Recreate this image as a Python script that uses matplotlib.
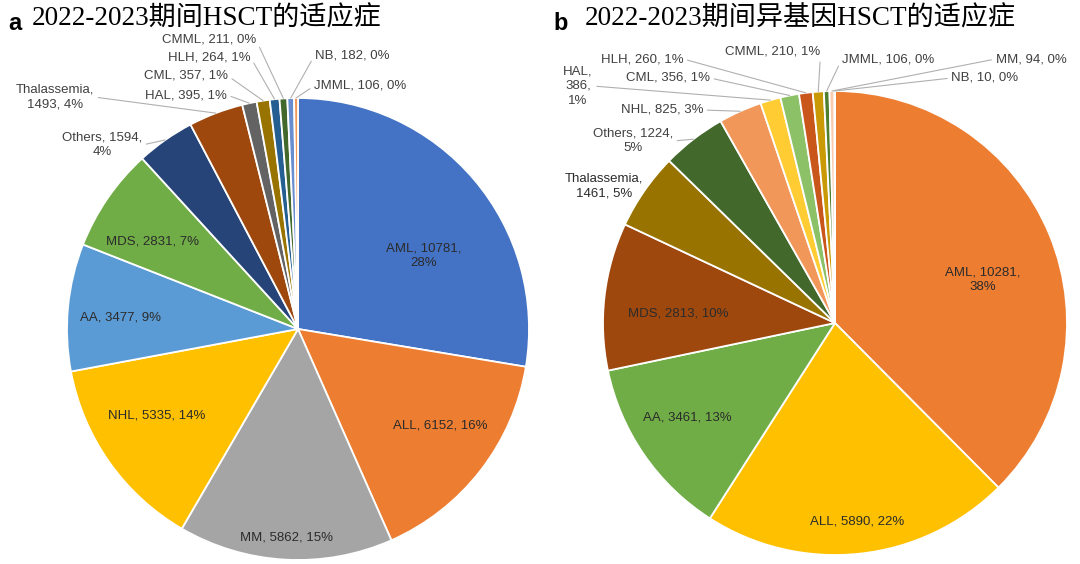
import numpy as np
import matplotlib.pyplot as plt

# ---- data: panel a (all HSCT) ----
names_a = ['AML', 'ALL', 'MM', 'NHL', 'AA', 'MDS', 'Others', 'Thalassemia',
           'HAL', 'CML', 'HLH', 'CMML', 'NB', 'JMML']
values_a = [10781, 6152, 5862, 5335, 3477, 2831, 1594, 1493, 395, 357, 264, 211, 182, 106]
pct_a = [28, 16, 15, 14, 9, 7, 4, 4, 1, 1, 1, 0, 0, 0]
colors_a = ['#4472C4', '#ED7D31', '#A5A5A5', '#FFC000', '#5B9BD5', '#70AD47', '#264478',
            '#9E480E', '#636363', '#997300', '#255E91', '#43682B', '#698ED0', '#F1975A']

# ---- data: panel b (allogeneic HSCT) ----
names_b = ['AML', 'ALL', 'AA', 'MDS', 'Thalassemia', 'Others', 'NHL', 'HAL',
           'CML', 'HLH', 'CMML', 'JMML', 'MM', 'NB']
values_b = [10281, 5890, 3461, 2813, 1461, 1224, 825, 386, 356, 260, 210, 106, 94, 10]
pct_b = [38, 22, 13, 10, 5, 5, 3, 1, 1, 1, 1, 0, 0, 0]
colors_b = ['#ED7D31', '#FFC000', '#70AD47', '#9E480E', '#997300', '#43682B', '#F1975A',
            '#FFCD33', '#8CC168', '#C9561A', '#C99A06', '#4E7F2E', '#F8CBAD', '#FFE699']

title_a = '2022-2023期间HSCT的适应症'
title_b = '2022-2023期间异基因HSCT的适应症'

# ---- layout (pixels in a 1080x564 canvas) ----
W, H = 1080, 564
pie_a = dict(cx=298, cy=329, r=231)
pie_b = dict(cx=835, cy=323, r=232)

# label position (px, py), line-break style, leader side (None = no leader)
# break: 0 one line, 1 before pct, 2 after name, 3 every item
lab_a = [(424, 256, 1, None), (440, 426, 0, None), (287, 538, 0, None), (157, 415, 0, None),
         (121, 318, 0, None), (152, 241, 0, None), (102, 145, 1, 'r'), (55, 97, 2, 'r'),
         (186, 95, 0, 'r'), (186, 76, 0, 'r'), (209, 57, 0, 'r'), (209, 40, 0, 'r'),
         (352, 55, 0, 'l'), (360, 86, 0, 'l')]
lab_b = [(983, 280, 1, None), (857, 522, 0, None), (687, 417, 0, None), (678, 313, 0, None),
         (604, 186, 2, None), (633, 141, 1, 'r'), (662, 110, 0, 'r'), (578, 86, 3, 'r'),
         (668, 78, 0, 'r'), (642, 59, 0, 'r'), (773, 52, 0, 'r'), (888, 59, 0, 'l'),
         (1031, 59, 0, 'l'), (985, 78, 0, 'l')]

plt.rcParams['font.family'] = ['Liberation Sans', 'DejaVu Sans']

fig = plt.figure(figsize=(W / 100, H / 100), dpi=100)
fig.patch.set_facecolor('white')


def label_text(name, val, pct, style):
    if style == 1:
        return f'{name}, {val},\n{pct}%'
    if style == 2:
        return f'{name},\n{val}, {pct}%'
    if style == 3:
        return f'{name},\n{val},\n{pct}%'
    return f'{name}, {val}, {pct}%'


def draw_pie(geo, names, values, pcts, colors, labels):
    cx, cy, r = geo['cx'], geo['cy'], geo['r']
    ax = fig.add_axes([(cx - r) / W, (H - cy - r) / H, 2 * r / W, 2 * r / H])
    wedges, _ = ax.pie(values, colors=colors, startangle=90, counterclock=False,
                       wedgeprops=dict(edgecolor='white', linewidth=1.3))
    ax.set_xlim(-1, 1)
    ax.set_ylim(-1, 1)
    ax.set_aspect('auto')
    ax.axis('off')

    for w, name, val, pct, (px, py, style, side) in zip(wedges, names, values, pcts, labels):
        tx, ty = (px - cx) / r, (cy - py) / r
        txt = label_text(name, val, pct, style)
        if side is None:
            ax.text(tx, ty, txt, ha='center', va='center', multialignment='center',
                    fontsize=9.5, color='#2b2b2b', linespacing=1.3)
        else:
            mid = np.deg2rad((w.theta1 + w.theta2) / 2)
            end = (w.r * np.cos(mid), w.r * np.sin(mid))
            rel = (1, 0.5) if side == 'r' else (0, 0.5)
            ax.annotate(txt, xy=end, xytext=(tx, ty), ha='center', va='center',
                        multialignment='center', fontsize=9.5, color='#404040',
                        linespacing=1.3, annotation_clip=False,
                        arrowprops=dict(arrowstyle='-', color='#b0b0b0', lw=0.8,
                                        relpos=rel, shrinkA=1, shrinkB=0))
    return ax


draw_pie(pie_a, names_a, values_a, pct_a, colors_a, lab_a)
draw_pie(pie_b, names_b, values_b, pct_b, colors_b, lab_b)

# panel titles
title_font = ['Liberation Serif', 'Noto Sans CJK SC']
fig.text(8 / W, 1 - 24 / H, 'a', fontsize=17, fontweight='bold', color='black',
         ha='left', va='center')
fig.text(32 / W, 1 - 19 / H, title_a, fontsize=19.5, color='black', ha='left', va='center',
         family=title_font)
fig.text(553 / W, 1 - 24 / H, 'b', fontsize=17, fontweight='bold', color='black',
         ha='left', va='center')
fig.text(585 / W, 1 - 19 / H, title_b, fontsize=19.5, color='black', ha='left', va='center',
         family=title_font)

fig.savefig('out.png', dpi=100, facecolor='white')
